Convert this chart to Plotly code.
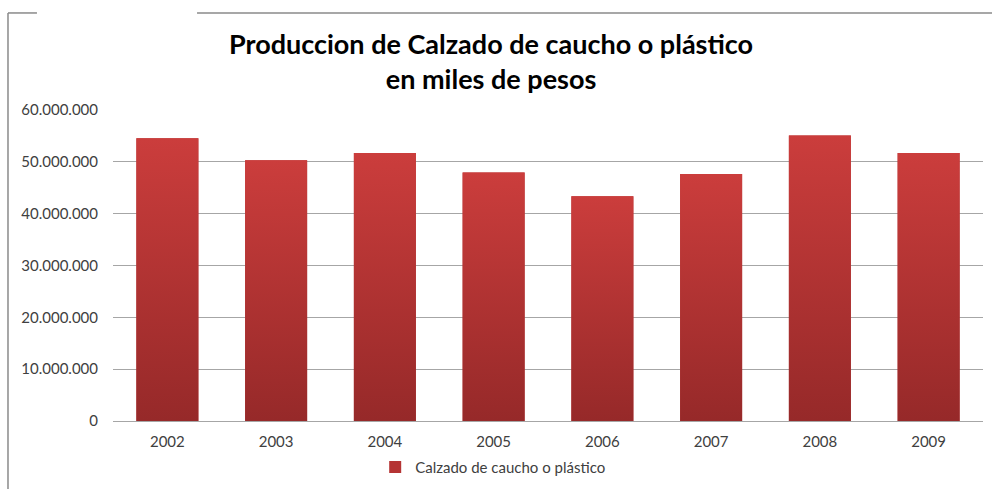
import plotly.graph_objects as go

# Production values (miles de pesos) per year
years = ["2002", "2003", "2004", "2005", "2006", "2007", "2008", "2009"]
produccion = [54550000, 50300000, 51700000, 47950000, 43350000, 47650000, 55100000, 51700000]
serie = "Calzado de caucho o plástico"

y_ticks = [0, 10000000, 20000000, 30000000, 40000000, 50000000, 60000000]

BAR_W = 0.57
TOP_COLOR = "#CB3D3C"
BOTTOM_COLOR = "#962929"
FONT = "Lato"

pos = list(range(len(years)))

fig = go.Figure()

# Base bar trace (carries the legend entry)
fig.add_trace(go.Bar(
    x=pos, y=produccion, width=BAR_W, name=serie,
    marker=dict(color="#B53434", line=dict(width=0)),
    showlegend=True,
))

# Gradient overlay for each bar, built from the same values
for i, v in zip(pos, produccion):
    x0, x1 = i - BAR_W / 2, i + BAR_W / 2
    fig.add_trace(go.Scatter(
        x=[x0, x1, x1, x0, x0], y=[0, 0, v, v, 0],
        mode="lines", fill="toself", line=dict(width=0),
        fillgradient=dict(type="vertical", start=0, stop=v,
                          colorscale=[[0, BOTTOM_COLOR], [1, TOP_COLOR]]),
        showlegend=False, hoverinfo="skip",
    ))

# Chart frame lines
frame = dict(type="line", xref="paper", yref="paper",
             line=dict(color="#8A8A8A", width=1.5))
shapes = [
    dict(frame, x0=-0.1207, x1=-0.1207, y0=1.312, y1=-0.22),
    dict(frame, x0=-0.1207, x1=-0.0874, y0=1.312, y1=1.312),
    dict(frame, x0=0.0966, x1=1.02, y0=1.312, y1=1.312),
]

fig.update_layout(
    width=992, height=489,
    margin=dict(l=113, r=9, t=110, b=68, autoexpand=False),
    paper_bgcolor="white", plot_bgcolor="white",
    separators=",.",
    font=dict(family=FONT, color="#404040", size=15),
    title=dict(
        text="<b>Produccion de Calzado de caucho o plástico<br>en miles de pesos</b>",
        x=0.495, xanchor="center", y=0.890, yanchor="middle",
        font=dict(family=FONT, size=27, color="#000000"),
    ),
    xaxis=dict(
        range=[-0.5, 7.5], tickmode="array", tickvals=pos, ticktext=years,
        showgrid=False, zeroline=False, showline=False, ticks="",
        ticklabelstandoff=10,
        tickfont=dict(size=15, color="#404040"),
    ),
    yaxis=dict(
        range=[0, 60000000], tickmode="array", tickvals=y_ticks,
        tickformat=",d", showgrid=True, gridcolor="#A6A6A6", gridwidth=1,
        zeroline=True, zerolinecolor="#A6A6A6", zerolinewidth=1,
        showline=False, ticks="", ticklen=0,
        ticklabelstandoff=14,
        tickfont=dict(size=15, color="#404040"),
    ),
    legend=dict(
        orientation="h", x=0.437, xanchor="center", y=-0.096, yanchor="top",
        font=dict(size=15, color="#404040"),
        itemwidth=30,
    ),
    shapes=shapes,
)

fig.write_html("out.html")
